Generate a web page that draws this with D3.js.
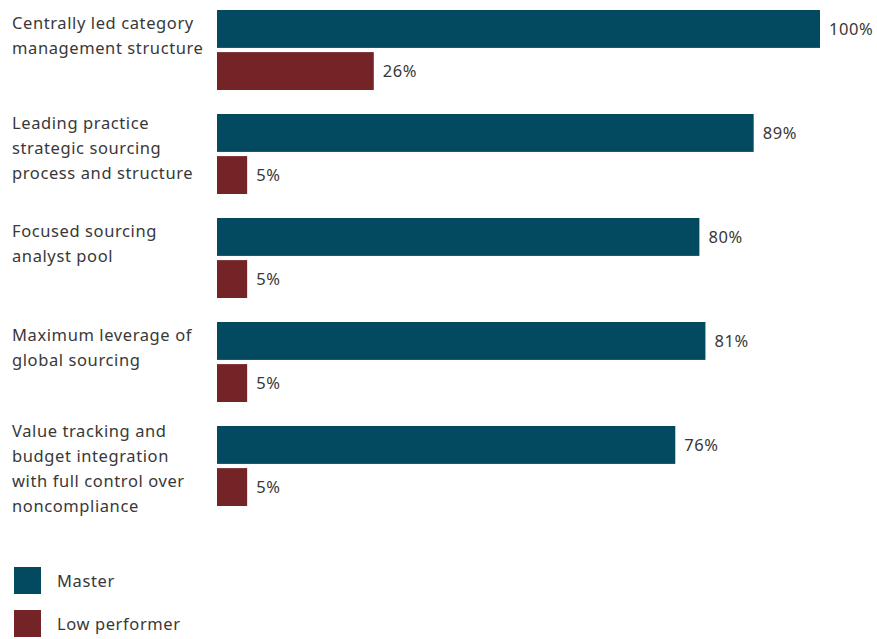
<!DOCTYPE html>
<html>
<head>
<meta charset="utf-8">
<script src="https://cdn.jsdelivr.net/npm/d3@7"></script>
<style>
  body { margin: 0; background: #fff; }
  text { font-family: "Noto Sans", "Open Sans", sans-serif; fill: #383838; letter-spacing: 0.6px; }
</style>
</head>
<body>
<div id="chart"></div>
<script>
  "use strict";

  // Categories, each split into the lines shown in the picture
  var categories = [
    ["Centrally led category", "management structure"],
    ["Leading practice", "strategic sourcing", "process and structure"],
    ["Focused sourcing", "analyst pool"],
    ["Maximum leverage of", "global sourcing"],
    ["Value tracking and", "budget integration", "with full control over", "noncompliance"]
  ];
  var seriesNames = ["Master", "Low performer"];
  var masterValues = [100, 89, 80, 81, 76];
  var lowValues = [26, 5, 5, 5, 5];
  var colors = ["#03495f", "#742327"];

  var width = 877, height = 639;
  var fontSize = 16.5;

  var svg = d3.select("#chart")
    .append("svg")
    .attr("width", width)
    .attr("height", height);

  // Horizontal value scale
  var x = d3.scaleLinear().domain([0, 100]).range([217, 820]);

  // One band per category, then a sub-band per series
  var y = d3.scaleBand()
    .domain(d3.range(categories.length))
    .range([10, 530])
    .paddingInner(0);

  var ySub = d3.scaleBand()
    .domain([0, 1])
    .range([0, 80])
    .paddingInner(0.1);

  var series = [masterValues, lowValues];

  var groups = svg.selectAll("g.group")
    .data(categories)
    .enter()
    .append("g")
    .attr("class", "group")
    .attr("transform", function(d, i) { return "translate(0," + y(i) + ")"; });

  // Category labels, top aligned to the group
  groups.append("text")
    .attr("font-size", fontSize)
    .each(function(lines) {
      var t = d3.select(this);
      var first = 13 - (lines.length - 2) * 4;
      lines.forEach(function(line, j) {
        t.append("tspan")
          .attr("x", 12)
          .attr("y", first + j * 25)
          .attr("dy", "0.35em")
          .text(line);
      });
    });

  series.forEach(function(values, s) {
    groups.append("rect")
      .attr("x", x(0))
      .attr("y", ySub(s))
      .attr("width", function(d, i) { return x(values[i]) - x(0); })
      .attr("height", ySub.bandwidth())
      .attr("fill", colors[s]);

    groups.append("text")
      .attr("x", function(d, i) { return x(values[i]) + 9; })
      .attr("y", ySub(s) + ySub.bandwidth() / 2)
      .attr("dy", "0.35em")
      .attr("font-size", fontSize)
      .text(function(d, i) { return values[i] + "%"; });
  });

  // Legend
  var legend = svg.selectAll("g.legend")
    .data(seriesNames)
    .enter()
    .append("g")
    .attr("class", "legend")
    .attr("transform", function(d, i) { return "translate(14," + (567 + i * 43) + ")"; });

  legend.append("rect")
    .attr("width", 27)
    .attr("height", 27)
    .attr("fill", function(d, i) { return colors[i]; });

  legend.append("text")
    .attr("x", 43)
    .attr("y", 14)
    .attr("dy", "0.35em")
    .attr("font-size", fontSize)
    .text(function(d) { return d; });
</script>
</body>
</html>
